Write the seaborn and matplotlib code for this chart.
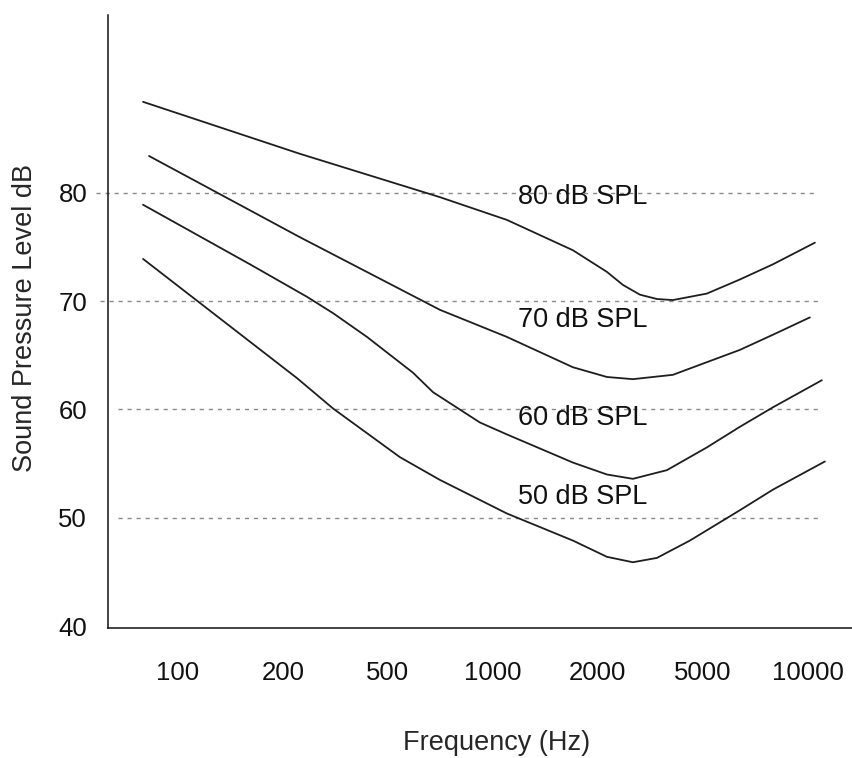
import numpy as np
import pandas as pd
import matplotlib
matplotlib.use('Agg')
import matplotlib.pyplot as plt
import seaborn as sns

# frequency axis: evenly spaced category positions
freq_labels = ['100', '200', '500', '1000', '2000', '5000', '10000']
db_ticks = [40, 50, 60, 70, 80]

# equal-loudness curves (x = position on frequency axis)
x_80 = [-0.333, 1.162, 2.495, 3.133, 3.762, 4.086, 4.238, 4.4, 4.562, 4.714, 5.038, 5.352, 5.667, 6.067]
y_80 = [88.4, 83.6, 79.6, 77.5, 74.7, 72.7, 71.5, 70.6, 70.2, 70.1, 70.7, 72.0, 73.4, 75.4]

x_70 = [-0.276, 1.162, 2.495, 3.133, 3.762, 4.086, 4.333, 4.714, 5.352, 5.667, 6.019]
y_70 = [83.4, 75.9, 69.2, 66.7, 63.9, 63.0, 62.8, 63.2, 65.5, 66.9, 68.5]

x_60 = [-0.333, 0.686, 1.229, 1.476, 1.8, 2.238, 2.429, 2.876, 3.133, 3.762, 4.086, 4.333, 4.657, 5.038, 5.352, 5.667, 6.133]
y_60 = [78.9, 73.4, 70.4, 68.9, 66.7, 63.4, 61.6, 58.8, 57.7, 55.1, 54.0, 53.6, 54.4, 56.5, 58.4, 60.2, 62.7]

x_50 = [-0.333, 1.133, 1.476, 2.114, 2.495, 3.133, 3.762, 4.086, 4.333, 4.562, 4.876, 5.352, 5.667, 6.162]
y_50 = [73.9, 62.9, 60.1, 55.6, 53.5, 50.4, 47.9, 46.4, 45.9, 46.3, 47.9, 50.7, 52.6, 55.2]

curve_names = ['80 dB SPL', '70 dB SPL', '60 dB SPL', '50 dB SPL']
label_y = [79.6, 68.3, 59.2, 51.9]
grid_levels = [80, 70, 60, 50]

frames = []
for name, xs, ys in zip(curve_names, [x_80, x_70, x_60, x_50], [y_80, y_70, y_60, y_50]):
    frames.append(pd.DataFrame({'pos': xs, 'spl': ys, 'curve': name}))
df = pd.concat(frames, ignore_index=True)

sns.set_style('white')
plt.rcParams['font.family'] = ['Liberation Sans', 'DejaVu Sans']

fig = plt.figure(figsize=(8.53, 7.58), dpi=100)
ax = fig.add_axes([0.1266, 0.1715, 0.8734, 0.8085])

# dotted reference levels
grid_start = [-0.78, -0.74, -0.57, -0.57]
for lvl, x0 in zip(grid_levels, grid_start):
    ax.hlines(lvl, x0, 6.1, colors='#8a8a8a', linestyles=(0, (3, 3.5)), linewidth=1.0, clip_on=False, zorder=1)

sns.lineplot(data=df, x='pos', y='spl', hue='curve', units='curve', estimator=None, sort=False,
             palette=['#1e1e1e'] * 4, linewidth=1.3, legend=False, ax=ax, zorder=3)
for line in ax.get_lines():
    line.set_solid_joinstyle('round')
    line.set_solid_capstyle('round')

for name, ly in zip(curve_names, label_y):
    ax.text(3.238, ly, name, fontsize=19.5, ha='left', va='center', color='#111111', zorder=4)

ax.set_xlim(-0.667, 6.43)
ax.set_ylim(39.83, 96.4)
ax.set_xticks(range(len(freq_labels)))
ax.set_xticklabels(freq_labels)
ax.set_yticks(db_ticks)
ax.tick_params(axis='x', length=0, pad=24, labelsize=18.5, colors='#111111')
ax.tick_params(axis='y', length=0, pad=15, labelsize=18.5, colors='#111111')

sns.despine(ax=ax)
for side in ['left', 'bottom']:
    ax.spines[side].set_color('#111111')
    ax.spines[side].set_linewidth(1.1)

ax.set_xlabel('Frequency (Hz)', fontsize=19.5)
ax.set_ylabel('Sound Pressure Level dB', fontsize=19.5)
ax.xaxis.set_label_coords(0.521, -0.166)
ax.yaxis.set_label_coords(-0.094, 0.506)

plt.savefig('out.png', dpi=100)
plt.close()
